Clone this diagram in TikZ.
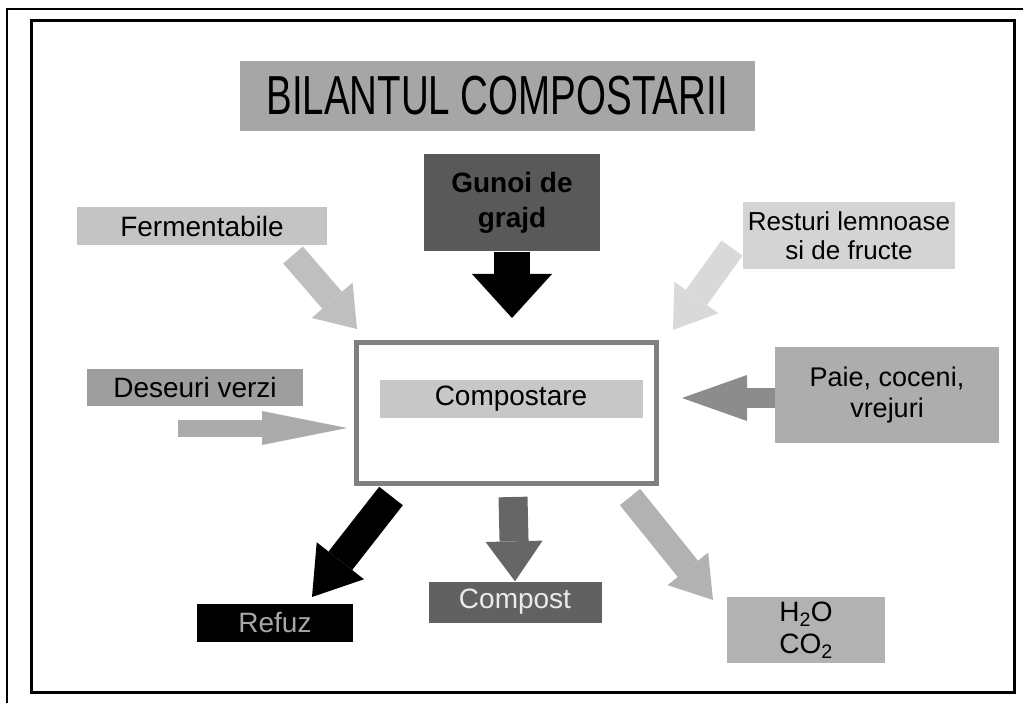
\documentclass[tikz,border=0pt]{standalone}
\usepackage{fontspec}
\setmainfont{Liberation Sans}
\newfontfamily\titlefont[FakeStretch=0.7]{Liberation Sans}
\usepackage{tikz}
\usetikzlibrary{arrows.meta,positioning}

\begin{document}
\begin{tikzpicture}[
  x=1pt, y=-1pt,
  lbl/.style={align=center, inner sep=0pt, font=\fontsize{28}{31}\selectfont},
  fat/.style n args={4}{line width=#1, draw=#4, -{Triangle[length=#2, width=#3, line width=0pt, fill=#4]}}
]
  \useasboundingbox (0,0) rectangle (1023,703);
  \draw[line width=1.5pt] (7,703) -- (7,9) -- (1023,9);
  \draw[line width=3pt] (31,21) rectangle (1014,692);

  \node[fill=black!35, minimum width=515pt, minimum height=70pt, inner sep=0pt,
        font=\titlefont\fontsize{55}{58}\selectfont] (title) at (497,96) {BILANTUL COMPOSTARII};

  \node[lbl, fill=black!65, minimum width=176pt, minimum height=97pt,
        font=\bfseries\fontsize{28}{35}\selectfont] (gunoi) at (512,203) {Gunoi de\\grajd};
  \node[lbl, fill=black!23, minimum width=250pt, minimum height=38pt] (ferm) at (202,226) {Fermentabile};
  \node[lbl, fill=black!17, minimum width=212pt, minimum height=67pt,
        font=\fontsize{26}{29}\selectfont] (rest) at (849,236) {Resturi lemnoase\\si de fructe};

  \node[draw=black!50, line width=5pt, fill=white, minimum width=300pt, minimum height=140pt] (compbox) at (506,413) {};
  \node[lbl, fill=black!22, minimum width=263pt, minimum height=38pt] (complbl) at (511,399) {Compostare};

  \node[lbl, fill=black!38, minimum width=216pt, minimum height=37pt] (desv) at (195,387) {Deseuri verzi};
  \node[lbl, fill=black!32, minimum width=224pt, minimum height=95pt,
        font=\fontsize{27}{31}\selectfont] (paie) at (887,395) {Paie, coceni,\\vrejuri};

  \node[lbl, fill=black, text=black!35, minimum width=156pt, minimum height=38pt] (refuz) at (275,623) {Refuz};
  \node[lbl, fill=black!62, text=black!8, minimum width=173pt, minimum height=41pt] (compost) at (515,602) {Compost};
  \node[lbl, fill=black!30, minimum width=158pt, minimum height=66pt,
        font=\fontsize{28}{32}\selectfont] (gaze) at (806,630) {H\textsubscript{2}O\\CO\textsubscript{2}};

  \coordinate (gunoitip) at (512,318);
  \coordinate (fermtail) at (293,255);
  \coordinate (fermtip) at (357,329);
  \coordinate (resttail) at (732,248);
  \coordinate (resttip) at (673,330);
  \coordinate (desvtail) at (178,428);
  \coordinate (desvtip) at (347,428);
  \coordinate (paietip) at (682,398);
  \coordinate (refuztail) at (391,496);
  \coordinate (refuztip) at (312,597);
  \coordinate (comptail) at (513,497);
  \coordinate (gazetail) at (630,497);
  \coordinate (gazetip) at (713,600);

  \draw[fat={36pt}{44pt}{80pt}{black}] (gunoi.south) -- (gunoitip);
  \draw[fat={26pt}{38pt}{54pt}{black!25}] (fermtail) -- (fermtip);
  \draw[fat={26pt}{40pt}{54pt}{black!15}] (resttail) -- (resttip);
  \draw[fat={17pt}{85pt}{34pt}{black!33}] (desvtail) -- (desvtip);
  \draw[fat={20pt}{65pt}{46pt}{black!45}] (paie.west |- paietip) -- (paietip);
  \draw[fat={30pt}{46pt}{60pt}{black}] (refuztail) -- (refuztip);
  \draw[fat={29pt}{40pt}{57pt}{black!60}] (comptail) -- (compost.north);
  \draw[fat={26pt}{40pt}{52pt}{black!30}] (gazetail) -- (gazetip);
\end{tikzpicture}
\end{document}
